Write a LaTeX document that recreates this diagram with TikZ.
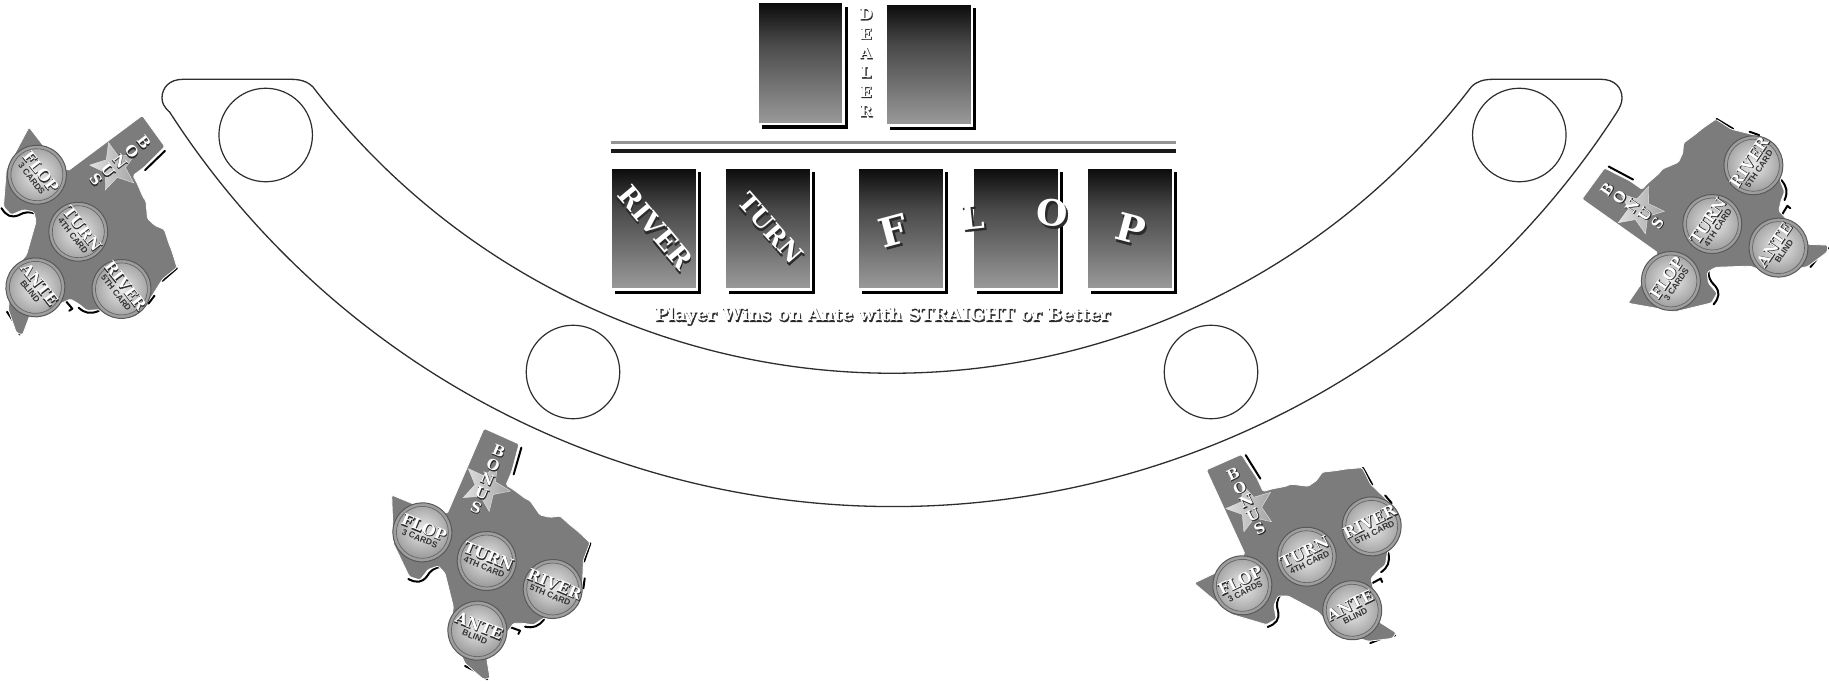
\documentclass[tikz,border=0pt]{standalone}
\usepackage{fontspec}
\usetikzlibrary{shapes.geometric,shadows}
\newfontfamily\slabfont{DejaVu Serif}
\newfontfamily\subfont{Liberation Sans}
\definecolor{cA}{HTML}{0A0A0A}
\definecolor{cB}{HTML}{4A4949}
\definecolor{cC}{HTML}{9A9A9A}
\definecolor{txs}{HTML}{7C7C7C}
\definecolor{embc}{HTML}{2A2A2A}
\definecolor{tabl}{HTML}{2E2E2E}
\pgfdeclareverticalshading{cardshade}{100bp}{color(0bp)=(cC); color(25bp)=(cC); color(58bp)=(cB); color(75bp)=(cA); color(100bp)=(cA)}
% white letters over their own dark drop shadow
\newcommand\emb[2][1]{\leavevmode\rlap{\kern#1pt\raisebox{-#1pt}{\textcolor{embc}{\special{pdf:code 0.165 G 0.35 w 2 Tr}#2\special{pdf:code 0 Tr}}}}\textcolor{white}{#2}}
\newcommand\slabat[1]{\slabfont\bfseries\fontsize{#1}{#1}\selectfont}
\newcommand\slabls[2]{\slabfont\bfseries\fontsize{#1}{#2}\selectfont}
\newcommand\chipat[6]{%
  \begin{scope}[shift={(#2,#3)},rotate=-22]
    \node[chipout] (-#1out) at (0,0) {};
    \node[chipin] (-#1in) at (0,0) {};
    \node[chipmain] (-#1main) at (0,-15) {\emb[.55]{#4}};
    \node[chipsub] (-#1sub) at (0,#6) {#5};
  \end{scope}}
\tikzset{
  cardbox/.style={rectangle,inner sep=0pt,minimum width=86pt,minimum height=122pt,shading=cardshade,draw=white,line width=2.4pt,
    general shadow={shadow xshift=4.3pt,shadow yshift=-5pt,fill=black}},
  seat/.style={circle,draw=tabl,line width=1.2pt,minimum size=93.5pt,inner sep=0pt},
  chipout/.style={circle,draw=black!65,line width=1pt,fill=black!38,minimum size=59pt,inner sep=0pt},
  chipin/.style={circle,draw=black!60,line width=.7pt,inner color=black!8,outer color=black!38,minimum size=52pt,inner sep=0pt},
  chipmain/.style={inner sep=0pt,font=\slabat{15.5}},
  chipsub/.style={inner sep=0pt,text=black!80,font=\subfont\bfseries\fontsize{8.5}{9}\selectfont},
  txsshadow/.style={line width=2pt,line cap=round,line join=round,black},
  texas/.pic={
    \begin{scope}[x=0.33333pt,y=-0.33333pt,shift={(-350,-453)},transform shape]
      \draw[txsshadow] (454,113) -- (431,193);
      \draw[txsshadow] (661,400) -- (642,455);
      \draw[txsshadow] (644,505) -- (640,535);
      \draw[txsshadow] (465,650) .. controls (490,655) and (505,650) .. (522,628);
      \draw[txsshadow] (422,652) -- (450,662) -- (445,672);
      \draw[txsshadow] (285,768) -- (325,788) -- (352,808);
      \draw[txsshadow] (115,507) .. controls (140,520) and (155,518) .. (170,500) .. controls (180,482) and (195,472) .. (215,470);
      \fill[txs,draw=white,line width=.8pt,rounded corners=1.5pt]
        (342,55) -- (447,102) -- (425,185) -- (408,225) -- (432,240) -- (465,265) -- (480,272) -- (510,315)
        -- (540,322) -- (570,318) -- (600,345) -- (625,365) -- (660,398) -- (640,450) -- (638,510) -- (625,590)
        -- (520,625) -- (490,645) -- (460,640) -- (430,640) -- (420,655) -- (350,745) -- (360,805) -- (340,808)
        -- (285,760) -- (240,660) -- (250,590) -- (225,490) -- (205,468) -- (175,478) -- (150,510) -- (118,500)
        -- (70,400) -- (65,255) -- (150,290) -- (232,310) -- cycle;
      \node[star,star points=5,star point ratio=2.3,minimum size=50pt,inner sep=0pt,shape border rotate=44,
        left color=black!12,right color=black!36,draw=black!10,line width=.4pt] (-star) at (347,230) {};
      \node[inner sep=0pt,align=center,rotate=-22,font=\slabls{14.5}{15.2}] (-bonus) at (352,208)
        {\emb[.6]{B}\\\emb[.6]{O}\\\emb[.6]{N}\\\emb[.6]{U}\\\emb[.6]{S}};
      \chipat{flop}{157}{367}{FLOP}{3 CARDS}{20}
      \chipat{turn}{350}{453}{TURN}{4TH CARD}{20}
      \chipat{river}{548}{537}{RIVER}{5TH CARD}{20}
      \chipat{ante}{322}{662}{ANTE}{BLIND}{20}
    \end{scope}
  }
}
\begin{document}
\begin{tikzpicture}[x=1pt,y=-1pt]
\useasboundingbox (0,0) rectangle (1829,683);
\fill[white] (0,0) rectangle (1829,683);
% table
\draw[tabl,line width=1.3pt]
  (183,79.3) -- (290,79.3) .. controls (300,79.3) and (307,81) .. (313,87)
  arc[start angle=217.4,end angle=322.6,radius=729pt]
  .. controls (1477,81) and (1484,79.3) .. (1494,79.3) -- (1601,79.3)
  .. controls (1615,79.3) and (1622,88) .. (1622,98)
  .. controls (1622,103) and (1620,107) .. (1617,112)
  arc[start angle=327.2,end angle=212.8,radius=861pt]
  .. controls (164,107) and (162,103) .. (162,98)
  .. controls (162,88) and (169,79.3) .. (183,79.3) -- cycle;
\node[seat] (s1) at (265.7,135) {};
\node[seat] (s2) at (573,372) {};
\node[seat] (s3) at (1211,372) {};
\node[seat] (s4) at (1519.3,135) {};
% cards
\node[cardbox] (d1) at (800.5,63) {};
\node[cardbox] (d2) at (929,64.3) {};
\node[inner sep=0pt,align=center,font=\slabls{15}{19.4}] (dealer) at (866,63)
  {\emb[.7]{D}\\\emb[.7]{E}\\\emb[.7]{A}\\\emb[.7]{L}\\\emb[.7]{E}\\\emb[.7]{R}};
\fill[black!42] (611,140.6) rectangle (1175.5,144);
\fill[black!90] (611,149) rectangle (1175.5,152.6);
\node[cardbox] (c1) at (654,228.3) {};
\node[cardbox] (c2) at (768,228.3) {};
\node[cardbox] (c3) at (900.7,228.3) {};
\node[cardbox] (c4) at (1015.8,228.3) {};
\node[cardbox] (c5) at (1130,228.3) {};
\node[inner sep=0pt,rotate=-50,font=\slabat{27}] (river) at (655,228) {\emb[1.4]{RIVER}};
\node[inner sep=0pt,rotate=-48.5,font=\slabat{25}] (turn) at (770,229) {\emb[1.4]{TURN}};
\node[inner sep=0pt,rotate=15,font=\slabat{40}] (f) at (893.5,231.7) {\emb[1.8]{F}};
\node[inner sep=0pt,rotate=6,font=\slabat{33}] (l) at (972.7,218.3) {\emb[1.5]{L}};
\node[inner sep=0pt,rotate=-5,font=\slabat{36}] (o) at (1052,214) {\emb[1.8]{O}};
\node[inner sep=0pt,rotate=-15,font=\slabat{38}] (p) at (1130.4,230) {\emb[1.8]{P}};
\node[inner sep=0pt,font=\slabat{17.5}] (wins) at (882.5,316.7) {\emb[.9]{Player Wins on Ante with STRAIGHT or Better}};
% texas layouts
\pic[rotate=0] (a) at (486.7,561) {texas};
\pic[rotate=48] (b) at (1306.7,556.7) {texas};
\pic[rotate=-30] (c) at (78.3,231.7) {texas};
\pic[rotate=78] (e) at (1712.3,224) {texas};
\end{tikzpicture}
\end{document}
